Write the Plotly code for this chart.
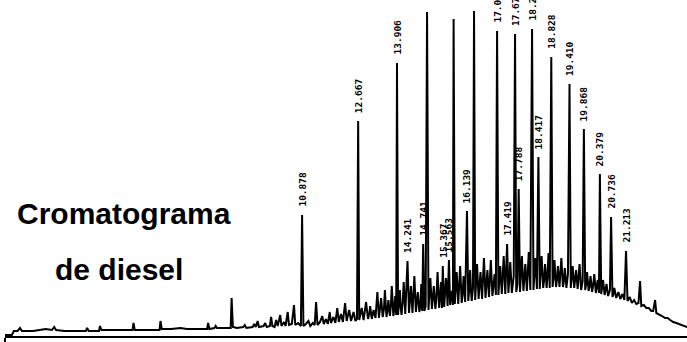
import plotly.graph_objects as go

# Retention time (min) and detector response (arbitrary units) of the diesel run
time_min = [
    1.40, 1.62, 1.68, 1.80, 1.88, 1.94, 2.30, 2.50, 2.70, 2.90, 2.97, 3.03,
    3.30, 3.60, 3.98, 4.02, 4.07, 4.40, 4.43, 4.48, 4.80, 5.20, 5.47, 5.50,
    5.54, 5.90, 6.20, 6.33, 6.36, 6.40, 6.70, 7.00, 7.20, 7.50, 7.85, 7.88,
    7.92, 8.08, 8.12, 8.16, 8.60, 8.63, 8.67, 8.80, 9.00, 9.05, 9.10, 9.30,
    9.35, 9.40, 9.46, 9.50, 9.65, 9.70, 9.75, 9.85, 9.89, 9.93,
    10.00, 10.05, 10.10, 10.18, 10.22, 10.30, 10.35, 10.42, 10.46, 10.55,
    10.62, 10.66, 10.75, 10.84, 10.878, 10.92, 11.00, 11.08, 11.14, 11.22,
    11.28, 11.325, 11.37, 11.45, 11.52, 11.57, 11.64, 11.70, 11.76, 11.80,
    11.88, 11.94, 12.00, 12.05, 12.12, 12.18, 12.25, 12.30, 12.38, 12.44,
    12.52, 12.58, 12.63, 12.667, 12.70, 12.78, 12.84, 12.92, 12.98,
    13.05, 13.10, 13.16, 13.22, 13.28, 13.33, 13.40, 13.45, 13.52, 13.57,
    13.63, 13.68, 13.74, 13.79, 13.85, 13.88, 13.906, 13.94, 14.00, 14.05,
    14.12, 14.17, 14.241, 14.29, 14.35, 14.40, 14.46, 14.51, 14.57, 14.62,
    14.68, 14.71, 14.741, 14.78, 14.82, 14.865, 14.91, 14.97, 15.02, 15.08,
    15.13, 15.20, 15.25, 15.31, 15.34,
    15.367, 15.41, 15.47, 15.52, 15.563, 15.60, 15.66, 15.69, 15.712, 15.75,
    15.81, 15.86, 15.92, 15.97, 16.03, 16.08, 16.139, 16.18, 16.24, 16.29,
    16.33, 16.364, 16.40, 16.46, 16.51, 16.57, 16.62, 16.68, 16.73, 16.79,
    16.84, 16.90, 16.95, 17.02, 17.06, 17.099, 17.14, 17.20, 17.25, 17.31,
    17.36, 17.419, 17.46, 17.52, 17.57, 17.63, 17.672, 17.71, 17.75, 17.788,
    17.83, 17.89, 17.94, 18.00, 18.05, 18.11, 18.16, 18.215, 18.26, 18.32,
    18.37, 18.417, 18.46, 18.52, 18.57, 18.63, 18.68, 18.74, 18.78, 18.828,
    18.87, 18.93, 18.98, 19.04, 19.09, 19.15, 19.20, 19.26, 19.31, 19.36,
    19.410, 19.45, 19.51, 19.56, 19.62, 19.67, 19.73, 19.78, 19.83, 19.868,
    19.91, 19.97, 20.02, 20.08, 20.13, 20.20, 20.25, 20.31, 20.35, 20.379,
    20.42, 20.48, 20.53, 20.59, 20.64, 20.70, 20.736, 20.78, 20.84, 20.90,
    20.97, 21.03, 21.10, 21.16, 21.213, 21.26, 21.33, 21.40, 21.47, 21.54,
    21.61, 21.66, 21.70, 21.78, 21.86, 21.94, 22.02, 22.08, 22.14, 22.18,
    22.26, 22.36, 22.46, 22.54, 22.62, 22.72, 22.82, 22.92, 23.02, 23.10,
    23.16,
]
response = [
    1, 1, 5, 5, 8, 5, 5, 6, 7, 6, 9, 6,
    5, 5, 5, 8, 5, 5, 10, 6, 6, 6, 6, 13,
    6, 6, 6, 6, 15, 7, 7, 8, 7, 7, 7, 13,
    7, 8, 10, 8, 8, 38, 9, 8, 9, 11, 8, 9,
    12, 9, 15, 9, 10, 13, 9, 10, 19, 10,
    9, 16, 10, 21, 10, 14, 10, 24, 11, 12,
    31, 11, 13, 10, 121, 10, 12, 15, 10, 13,
    11, 34, 11, 14, 20, 12, 17, 12, 24, 13,
    19, 13, 28, 14, 22, 14, 33, 15, 26, 15,
    24, 15, 17, 215, 16, 28, 16, 34, 17,
    30, 17, 26, 18, 44, 18, 38, 19, 46, 19,
    36, 20, 50, 20, 40, 21, 273, 21, 46, 21,
    54, 22, 75, 23, 50, 23, 60, 24, 44, 24,
    52, 25, 92, 25, 30, 324, 26, 58, 27, 50,
    27, 64, 28, 54, 28,
    70, 29, 58, 30, 76, 31, 45, 31, 317, 32,
    64, 32, 70, 33, 60, 34, 125, 35, 66, 35,
    48, 325, 36, 72, 37, 64, 37, 78, 38, 66,
    39, 76, 40, 62, 41, 305, 41, 70, 42, 80,
    42, 92, 43, 74, 43, 60, 302, 44, 52, 147,
    44, 80, 45, 72, 45, 84, 46, 307, 46, 78,
    47, 179, 47, 80, 48, 72, 48, 83, 48, 279,
    49, 76, 49, 70, 49, 78, 49, 68, 48, 62,
    252, 48, 70, 48, 66, 47, 72, 46, 55, 207,
    46, 64, 45, 60, 44, 62, 43, 56, 43, 162,
    42, 56, 41, 52, 40, 46, 119, 39, 48, 38,
    44, 37, 42, 36, 85, 35, 39, 33, 36, 32,
    33, 55, 30, 31, 28, 28, 25, 25, 36, 23,
    22, 20, 18, 18, 16, 14, 13, 12, 11, 10,
    9,
]

# Smaller unresolved components riding on the hump
minor_time = [
    13.02, 13.13, 13.25, 13.36, 13.49, 13.60, 13.71, 13.82,
    14.02, 14.09, 14.20, 14.32, 14.43, 14.54, 14.65, 14.94, 15.05, 15.16, 15.28,
    15.44, 15.50, 15.63, 15.78, 15.89, 16.00, 16.21, 16.27, 16.43, 16.54,
    16.65, 16.76, 16.87, 16.98, 17.17, 17.28, 17.49, 17.60, 17.86, 17.97,
    18.08, 18.29, 18.49, 18.60, 18.71, 18.90, 19.01, 19.12, 19.23, 19.48,
    19.59, 19.70, 19.94, 20.05, 20.17, 20.28, 20.45, 20.56, 20.67, 20.81,
    20.93, 21.06,
]
minor_resp = [
    22, 24, 28, 30, 27, 25, 30, 27,
    30, 35, 40, 33, 38, 35, 30, 40, 38, 36, 40,
    40, 44, 38, 45, 48, 42, 46, 44, 50, 48,
    52, 50, 55, 50, 52, 58, 55, 52, 58, 55,
    60, 58, 60, 56, 62, 58, 56, 60, 55, 57,
    55, 58, 52, 50, 52, 48, 47, 46, 44, 42,
    41, 40,
]

# Peaks annotated with their retention time
peak_times = [
    10.878, 12.667, 13.906, 14.241, 14.741, 15.367, 15.563, 16.139, 17.099,
    17.419, 17.672, 17.788, 18.215, 18.417, 18.828, 19.410, 19.868, 20.379,
    20.736, 21.213,
]
peak_heights = [
    121, 215, 273, 75, 92, 70, 76, 125, 305,
    92, 302, 147, 307, 179, 279, 252, 207, 162,
    119, 85,
]
peak_labels = [f"{t:.3f}" for t in peak_times]

title_lines = ["Cromatograma", "de diesel"]

# Merge the resolved trace and the minor components in time order
points = sorted(zip(time_min + minor_time, response + minor_resp))
trace_t = [p[0] for p in points]
trace_r = [p[1] for p in points]

fig = go.Figure()
fig.add_trace(go.Scatter(
    x=trace_t, y=trace_r, mode="lines",
    line=dict(color="black", width=2),
    hoverinfo="skip", showlegend=False,
))

for t, h, lab in zip(peak_times, peak_heights, peak_labels):
    fig.add_annotation(
        x=t, y=h + 7, xref="x", yref="y", text=lab, showarrow=False,
        textangle=-90, xanchor="center", yanchor="bottom", borderpad=0,
        font=dict(family="DejaVu Sans Mono", size=9.5, color="black", weight="bold"),
    )

for txt, xp, yp in zip(title_lines, [0.1745, 0.167], [0.366, 0.199]):
    fig.add_annotation(
        x=xp, y=yp, xref="paper", yref="paper", text=txt, showarrow=False,
        xanchor="center", yanchor="middle",
        font=dict(family="Liberation Sans", size=30, color="black", weight="bold"),
    )

fig.update_layout(
    width=687, height=342,
    margin=dict(l=5, r=0, t=0, b=6),
    paper_bgcolor="white", plot_bgcolor="white",
    xaxis=dict(
        range=[1.40, 23.158], showgrid=False, zeroline=False,
        showline=True, linecolor="black", linewidth=1.5,
        ticks="outside", tickvals=[1.41], ticklen=6, tickwidth=2,
        tickcolor="black", showticklabels=False, fixedrange=True,
    ),
    yaxis=dict(range=[0, 336], visible=False, fixedrange=True),
)

fig.write_html("out.html")
